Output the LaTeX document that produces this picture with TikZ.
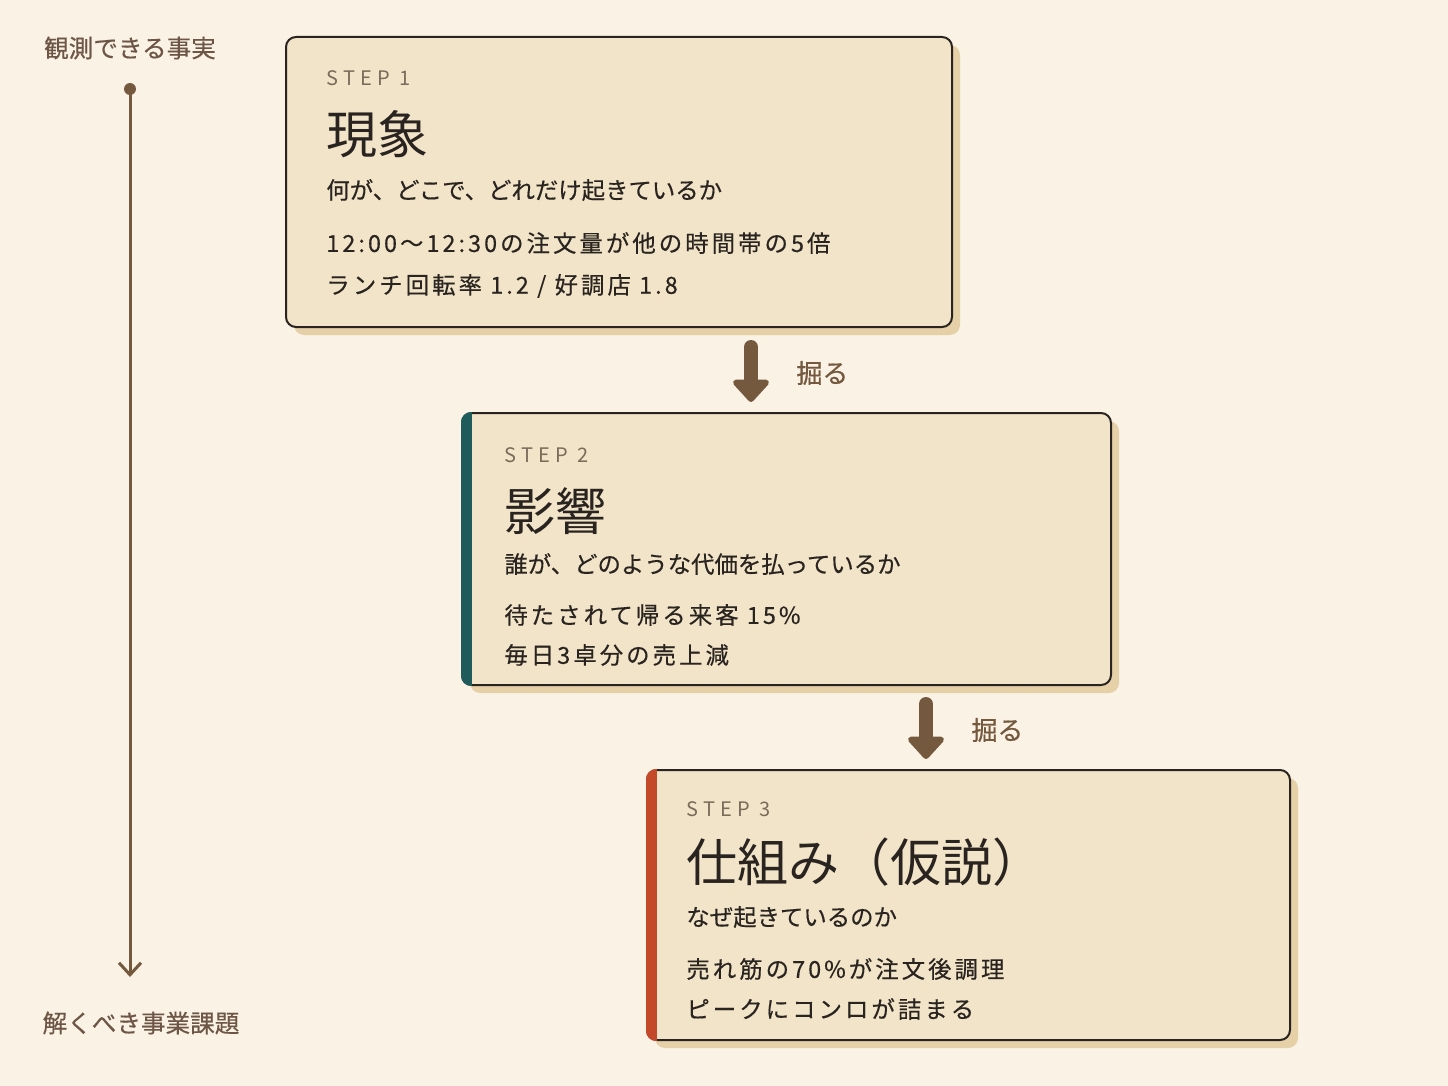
\documentclass[tikz,border=0pt]{standalone}
\usepackage{fontspec}
\setmainfont{Noto Sans CJK JP}
\usetikzlibrary{arrows.meta,shadows}
\definecolor{paper}{HTML}{FAF2E5}
\definecolor{cardfill}{HTML}{F2E4C8}
\definecolor{cardshade}{HTML}{E6D0A8}
\definecolor{ink}{HTML}{2A2420}
\definecolor{stepgray}{HTML}{7A6B5B}
\definecolor{earth}{HTML}{75593F}
\definecolor{sidebrown}{HTML}{6E5646}
\definecolor{tealbar}{HTML}{1E5B5A}
\definecolor{rustbar}{HTML}{C4492A}
\begin{document}
\begin{tikzpicture}[x=0.5pt,y=-0.5pt,
	card/.style={draw=ink,line width=1pt,fill=cardfill,rounded corners=5pt,
		drop shadow={shadow xshift=4pt,shadow yshift=-4pt,fill=cardshade,opacity=1}},
	steplabel/.style={anchor=west,inner sep=0pt,text=stepgray,font=\fontsize{10}{12}\selectfont\addfontfeatures{LetterSpace=26}},
	headline/.style={anchor=west,inner sep=0pt,text=ink,font=\fontsize{25.5}{30}\selectfont},
	question/.style={anchor=west,inner sep=0pt,text=ink,font=\fontsize{11.7}{14}\selectfont\addfontfeatures{FakeBold=0.4}},
	fact/.style={anchor=west,inner sep=0pt,text=ink,font=\fontsize{11.7}{14}\selectfont\addfontfeatures{LetterSpace=13,FakeBold=0.4}},
	dig/.style={line width=7pt,line cap=round,draw=earth,-{Triangle[length=12pt,width=21pt,round]}},
	diglabel/.style={anchor=west,inner sep=0pt,text=earth,font=\fontsize{13}{15}\selectfont\addfontfeatures{FakeBold=0.5}},
	sidelabel/.style={inner sep=0pt,text=sidebrown,font=\fontsize{12.3}{15}\selectfont\addfontfeatures{FakeBold=0.4}},
	axis/.style={line width=1.5pt,draw=earth,-{Straight Barb[length=6pt,width=11pt,line width=1.5pt]}}]
	\fill[paper] (0,0) rectangle (1448,1086);
	\useasboundingbox (0,0) rectangle (1448,1086);
	% left scale
	\coordinate (tl) at (130,89);
	\coordinate (tb) at (130,977);
	\draw[axis] (tl)--(tb);
	\fill[earth] (tl) circle[radius=6];
	\node[sidelabel] (obs) at (130,48) {観測できる事実};
	\node[sidelabel] (task) at (141,1023) {解くべき事業課題};
	% step 1
	\node[card,minimum width=333pt,minimum height=145pt] (s1) at (619,182) {};
	\node[steplabel] (s1step) at (326,78) {STEP 1};
	\node[headline] (s1head) at (326,134) {現象};
	\node[question] (s1q) at (326,190) {何が、どこで、どれだけ起きているか};
	\node[fact] (s1fa) at (326,243) {12:00〜12:30の注文量が他の時間帯の5倍};
	\node[fact] (s1fb) at (326,286) {ランチ回転率 1.2 / 好調店 1.8};
	% step 2
	\node[card,minimum width=324.5pt,minimum height=136pt] (s2) at (786.5,549) {};
	\begin{scope}
		\clip[rounded corners=5pt] (s2.north west) rectangle (s2.south east);
		\fill[tealbar] (s2.north west) rectangle ([xshift=5.5pt]s2.south west);
	\end{scope}
	\node[steplabel] (s2step) at (504,455) {STEP 2};
	\node[headline] (s2head) at (504,511) {影響};
	\node[question] (s2q) at (504,564) {誰が、どのような代価を払っているか};
	\node[fact] (s2fa) at (504,615) {待たされて帰る来客 15\%};
	\node[fact] (s2fb) at (504,655) {毎日3卓分の売上減};
	% step 3
	\node[card,minimum width=321.5pt,minimum height=135pt] (s3) at (968.5,905) {};
	\begin{scope}
		\clip[rounded corners=5pt] (s3.north west) rectangle (s3.south east);
		\fill[rustbar] (s3.north west) rectangle ([xshift=5.5pt]s3.south west);
	\end{scope}
	\node[steplabel] (s3step) at (686,809) {STEP 3};
	\node[headline] (s3head) at (686,862) {仕組み（仮説）};
	\node[question] (s3q) at (686,917) {なぜ起きているのか};
	\node[fact] (s3fa) at (686,969) {売れ筋の70\%が注文後調理};
	\node[fact] (s3fb) at (686,1009) {ピークにコンロが詰まる};
	% dig arrows
	\coordinate (d1a) at (751,347);
	\coordinate (d1b) at (751,402);
	\draw[dig] (d1a)--(d1b);
	\node[diglabel] (dig1) at (796,373) {掘る};
	\coordinate (d2a) at (926,704);
	\coordinate (d2b) at (926,759);
	\draw[dig] (d2a)--(d2b);
	\node[diglabel] (dig2) at (971,730) {掘る};
\end{tikzpicture}
\end{document}
